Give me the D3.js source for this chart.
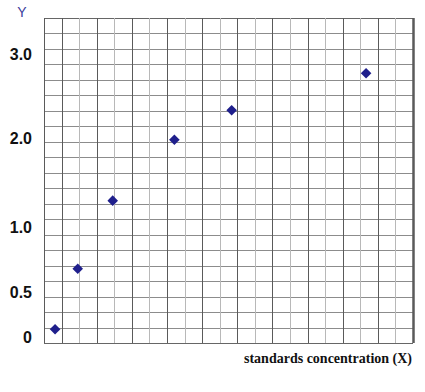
<!DOCTYPE html>
<html>
<head>
<meta charset="UTF-8">
<script src="https://cdn.jsdelivr.net/npm/d3@7"></script>
<style>
  body { margin: 0; background: #fff; }
  svg { display: block; }
</style>
</head>
<body>
<svg width="425" height="392"></svg>
<script>
// readings (x in grid units, y in absorbance)
var xValues = [0.63, 1.92, 3.91, 7.42, 10.68, 18.33];
var yValues = [0.09, 0.68, 1.30, 1.98, 2.33, 2.77];
var yTickValues = [0, 0.5, 1, 2, 3];
var yTickLabels = ["0", "0.5", "1.0", "2.0", "3.0"];
var gridCols = 21, gridRows = 21;

var svg = d3.select("svg");

var x = d3.scaleLinear().domain([0, gridCols]).range([44, 413]);
var row = d3.scaleLinear().domain([0, gridRows]).range([343, 18]);
// the printed axis is not evenly spaced, so the label positions drive the scale
var y = d3.scaleLinear().domain(yTickValues).range([337.5, 292, 227.5, 138, 54]);

var grid = svg.append("g");

grid.selectAll(".hline")
    .data(d3.range(0, gridRows + 1))
    .enter().append("line")
    .attr("x1", x(0)).attr("x2", x(gridCols))
    .attr("y1", function (d) { return Math.round(row(d)) + 0.5; })
    .attr("y2", function (d) { return Math.round(row(d)) + 0.5; })
    .attr("stroke", function (d) { return (d === 0 || d === gridRows) ? "#666" : "#8c8c8c"; })
    .attr("stroke-width", 1);

grid.selectAll(".vline")
    .data(d3.range(0, gridCols + 1))
    .enter().append("line")
    .attr("x1", function (d) { return Math.round(x(d)) + 0.5; })
    .attr("x2", function (d) { return Math.round(x(d)) + 0.5; })
    .attr("y1", row(0)).attr("y2", row(gridRows))
    .attr("stroke", function (d) { return (d % 2 === 1 || d === 0) ? "#5a5a5a" : "#b8b8b8"; })
    .attr("stroke-width", function (d) { return d === gridCols ? 2.5 : 1; });

// y tick labels
svg.append("g").selectAll("text")
    .data(yTickValues)
    .enter().append("text")
    .attr("x", 32)
    .attr("y", function (d) { return y(d); })
    .attr("dy", "0.36em")
    .attr("text-anchor", "end")
    .style("font", "bold 16px 'Liberation Sans', Arial, sans-serif")
    .attr("fill", "#111")
    .text(function (d, i) { return yTickLabels[i]; });

svg.append("text")
    .attr("x", 22).attr("y", 17)
    .attr("text-anchor", "middle")
    .style("font", "14px 'Liberation Sans', Arial, sans-serif")
    .attr("fill", "#3c3c9c")
    .text("Y");

svg.append("text")
    .attr("x", 412).attr("y", 363)
    .attr("text-anchor", "end")
    .style("font", "bold 14px 'Liberation Serif', 'Times New Roman', serif")
    .attr("fill", "#111")
    .text("standards concentration (X)");

// points: squares turned 45 degrees
var marker = d3.symbol().type(d3.symbolSquare).size(56);
svg.append("g").selectAll("path")
    .data(xValues.map(function (v, i) { return { x: v, y: yValues[i] }; }))
    .enter().append("path")
    .attr("d", marker)
    .attr("transform", function (d) { return "translate(" + x(d.x) + "," + y(d.y) + ") rotate(45)"; })
    .attr("fill", "#1f1f8c");
</script>
</body>
</html>
